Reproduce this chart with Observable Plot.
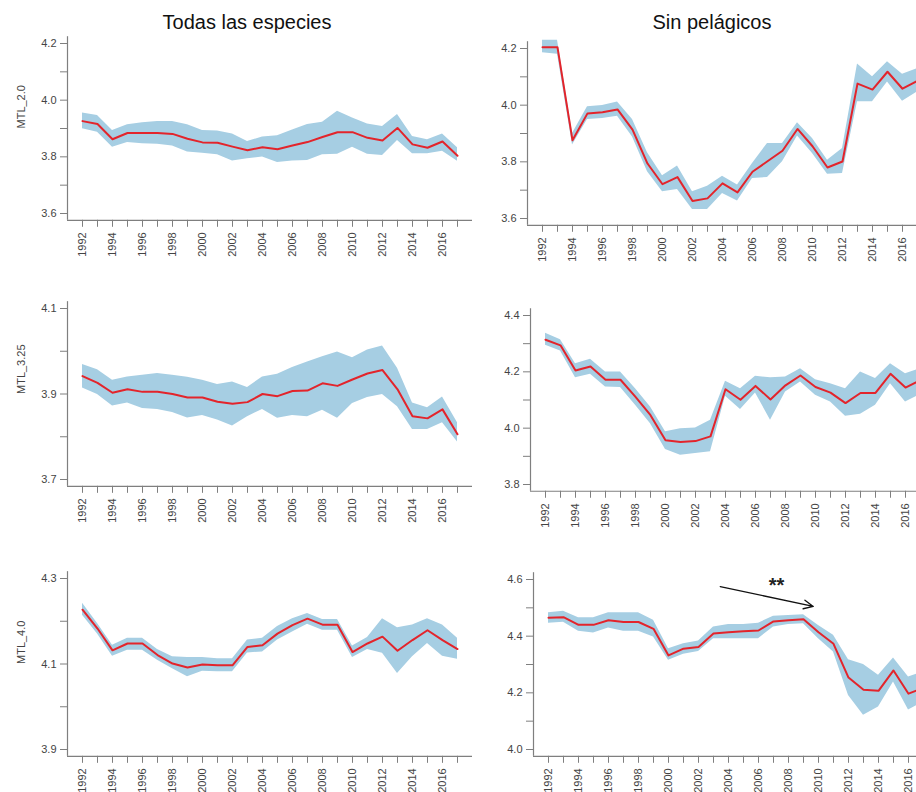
<!DOCTYPE html>
<html><head><meta charset="utf-8">
<script src="https://cdn.jsdelivr.net/npm/d3@7"></script>
<script src="https://cdn.jsdelivr.net/npm/@observablehq/plot@0.6"></script>
<style>
html,body{margin:0;padding:0;background:#fff;overflow:hidden;}
#wrap{position:relative;width:916px;height:792px;overflow:hidden;font-family:"Liberation Sans",Arial,sans-serif;background:#fff;}
.panel{position:absolute;}
.title{position:absolute;font-size:20px;line-height:20px;color:#111;white-space:nowrap;transform:translateX(-50%);}
</style></head><body><div id="wrap"></div>
<script>
// ---------- data ----------
const years = [1992,1993,1994,1995,1996,1997,1998,1999,2000,2001,2002,2003,2004,2005,2006,2007,2008,2009,2010,2011,2012,2013,2014,2015,2016,2017];
const yearLabels = [1992,1994,1996,1998,2000,2002,2004,2006,2008,2010,2012,2014,2016];
const columnTitles = ["Todas las especies", "Sin pelágicos"];
const rowLabels = ["MTL_2.0", "MTL_3.25", "MTL_4.0"];

// Todas las especies, MTL_2.0
const todas20Mean  = [3.926,3.916,3.862,3.884,3.884,3.884,3.881,3.864,3.851,3.850,3.836,3.823,3.834,3.827,3.840,3.852,3.870,3.887,3.887,3.867,3.858,3.902,3.844,3.832,3.854,3.804];
const todas20Upper = [3.955,3.946,3.893,3.913,3.920,3.925,3.925,3.913,3.893,3.891,3.881,3.854,3.870,3.874,3.895,3.914,3.922,3.961,3.937,3.916,3.907,3.949,3.872,3.860,3.881,3.832];
const todas20Lower = [3.899,3.887,3.834,3.851,3.846,3.844,3.838,3.817,3.813,3.807,3.785,3.793,3.799,3.780,3.785,3.787,3.807,3.809,3.834,3.809,3.805,3.858,3.811,3.811,3.820,3.784];
// Sin pelágicos, MTL_2.0
const sin20Mean  = [4.204,4.204,3.876,3.971,3.975,3.985,3.914,3.794,3.721,3.746,3.662,3.671,3.724,3.692,3.765,3.802,3.839,3.916,3.855,3.780,3.801,4.076,4.055,4.118,4.058,4.086];
const sin20Upper = [4.229,4.229,3.900,3.994,3.999,4.011,3.949,3.832,3.751,3.785,3.694,3.714,3.749,3.718,3.794,3.865,3.865,3.938,3.882,3.806,3.847,4.145,4.100,4.153,4.109,4.129];
const sin20Lower = [4.185,4.180,3.859,3.949,3.953,3.961,3.888,3.765,3.694,3.702,3.632,3.632,3.688,3.662,3.741,3.745,3.800,3.891,3.829,3.756,3.759,4.012,4.012,4.082,4.014,4.047];
// Todas las especies, MTL_3.25
const todas325Mean  = [3.942,3.926,3.903,3.911,3.905,3.905,3.900,3.892,3.892,3.882,3.877,3.881,3.900,3.895,3.907,3.908,3.925,3.919,3.934,3.948,3.956,3.911,3.848,3.843,3.864,3.806];
const todas325Upper = [3.969,3.957,3.932,3.940,3.944,3.948,3.944,3.939,3.932,3.922,3.928,3.915,3.940,3.946,3.962,3.975,3.987,3.998,3.985,4.003,4.012,3.960,3.879,3.868,3.893,3.833];
const todas325Lower = [3.914,3.899,3.872,3.879,3.866,3.864,3.857,3.844,3.850,3.839,3.825,3.847,3.864,3.843,3.850,3.847,3.862,3.843,3.878,3.892,3.899,3.870,3.817,3.817,3.833,3.788];
// Sin pelágicos, MTL_3.25
const sin325Mean  = [4.314,4.294,4.205,4.219,4.172,4.172,4.111,4.046,3.957,3.951,3.954,3.971,4.138,4.101,4.150,4.102,4.152,4.187,4.146,4.126,4.089,4.125,4.125,4.193,4.144,4.170];
const sin325Upper = [4.337,4.314,4.229,4.245,4.199,4.199,4.140,4.075,3.987,3.998,4.001,4.028,4.167,4.140,4.184,4.179,4.182,4.211,4.172,4.158,4.140,4.199,4.176,4.229,4.193,4.211];
const sin325Lower = [4.294,4.274,4.179,4.191,4.146,4.144,4.081,4.016,3.924,3.904,3.910,3.916,4.113,4.066,4.125,4.028,4.128,4.164,4.117,4.093,4.042,4.049,4.081,4.158,4.093,4.120];
// Todas las especies, MTL_4.0
const todas40Mean  = [4.227,4.183,4.132,4.148,4.148,4.121,4.101,4.092,4.099,4.097,4.097,4.140,4.144,4.171,4.191,4.206,4.192,4.192,4.128,4.148,4.164,4.131,4.156,4.179,4.156,4.135];
const todas40Upper = [4.242,4.195,4.144,4.160,4.160,4.134,4.117,4.115,4.115,4.112,4.112,4.156,4.160,4.188,4.206,4.218,4.204,4.204,4.142,4.162,4.206,4.185,4.191,4.206,4.191,4.160];
const todas40Lower = [4.214,4.170,4.118,4.132,4.132,4.109,4.089,4.070,4.083,4.082,4.082,4.126,4.128,4.156,4.175,4.193,4.179,4.179,4.115,4.134,4.125,4.078,4.117,4.148,4.118,4.111];
// Sin pelágicos, MTL_4.0
const sin40Mean  = [4.465,4.467,4.440,4.440,4.456,4.450,4.450,4.426,4.332,4.356,4.362,4.409,4.414,4.417,4.420,4.452,4.456,4.460,4.414,4.373,4.254,4.211,4.207,4.279,4.197,4.218];
const sin40Upper = [4.483,4.488,4.465,4.465,4.483,4.483,4.483,4.456,4.356,4.373,4.383,4.432,4.441,4.441,4.446,4.470,4.473,4.476,4.438,4.403,4.317,4.300,4.262,4.323,4.256,4.274];
const sin40Lower = [4.446,4.449,4.417,4.411,4.429,4.417,4.417,4.397,4.315,4.336,4.346,4.391,4.391,4.391,4.391,4.432,4.441,4.444,4.391,4.344,4.191,4.121,4.150,4.238,4.139,4.168];

// y-axis ticks per panel (all ticks / labelled ones)
const ticks20Todas = [3.6,3.7,3.8,3.9,4.0,4.1,4.2];   const labels20Todas = [3.6,3.8,4.0,4.2];
const ticks20Sin   = [3.6,3.7,3.8,3.9,4.0,4.1,4.2];   const labels20Sin   = [3.6,3.8,4.0,4.2];
const ticks325Todas = [3.7,3.8,3.9,4.0,4.1];          const labels325Todas = [3.7,3.9,4.1];
const ticks325Sin   = [3.8,3.9,4.0,4.1,4.2,4.3,4.4];  const labels325Sin   = [3.8,4.0,4.2,4.4];
const ticks40Todas = [3.9,4.0,4.1,4.2,4.3];           const labels40Todas = [3.9,4.1,4.3];
const ticks40Sin   = [4.0,4.1,4.2,4.3,4.4,4.5,4.6];   const labels40Sin   = [4.0,4.2,4.4,4.6];

// annotation (bottom-right panel): arrow and significance mark
const arrowFrom = [2003.45, 4.575];
const arrowTo   = [2009.65, 4.505];
const starsAt   = [2007.2, 4.578];
const starsText = "**";

// ---------- styling / layout ----------
const BAND = "#a6cee3", LINE = "#e3242b", AXIS = "#7f7f7f", TXT = "#444";
const xLim = [1991, 2018];          // R-style 4% padded limits
const PX_PER_YEAR = 15;
const fmt = d3.format(".1f");

const panels = [
  {left: 0,   top: 30,  height: 250, ml: 67, pxHi: 43,  pxLo: 213, mean: todas20Mean,  upper: todas20Upper,  lower: todas20Lower,  ticks: ticks20Todas,  labels: labels20Todas,  ylabel: rowLabels[0]},
  {left: 460, top: 30,  height: 250, ml: 67, pxHi: 48,  pxLo: 218, mean: sin20Mean,    upper: sin20Upper,    lower: sin20Lower,    ticks: ticks20Sin,    labels: labels20Sin},
  {left: 0,   top: 290, height: 260, ml: 67, pxHi: 308, pxLo: 479, mean: todas325Mean, upper: todas325Upper, lower: todas325Lower, ticks: ticks325Todas, labels: labels325Todas, ylabel: rowLabels[1]},
  {left: 460, top: 290, height: 260, ml: 70, pxHi: 315, pxLo: 484, mean: sin325Mean,   upper: sin325Upper,   lower: sin325Lower,   ticks: ticks325Sin,   labels: labels325Sin},
  {left: 0,   top: 560, height: 232, ml: 67, pxHi: 578, pxLo: 749, mean: todas40Mean,  upper: todas40Upper,  lower: todas40Lower,  ticks: ticks40Todas,  labels: labels40Todas,  ylabel: rowLabels[2]},
  {left: 460, top: 560, height: 232, ml: 73, pxHi: 579, pxLo: 749, mean: sin40Mean,    upper: sin40Upper,    lower: sin40Lower,    ticks: ticks40Sin,    labels: labels40Sin, annotate: true}
];

const wrap = document.getElementById("wrap");

for (const p of panels) {
  const rows = years.map((year, i) => ({year, mean: p.mean[i], lo: p.lower[i], hi: p.upper[i]}));
  const lo = d3.min(p.ticks), hi = d3.max(p.ticks);
  const pad = 0.04 * (hi - lo);
  const k = (p.pxLo - p.pxHi) / (hi - lo);
  const plotTop = p.pxHi - pad * k, plotBottom = p.pxLo + pad * k;
  const yDomain = [lo - pad, hi + pad];
  const mr = 8;
  const width = p.ml + (xLim[1] - xLim[0]) * PX_PER_YEAR + mr;
  const labelSet = new Set(p.labels.map(fmt));
  const marks = [
    Plot.areaY(rows, {x: "year", y1: "lo", y2: "hi", fill: BAND}),
    Plot.lineY(rows, {x: "year", y: "mean", stroke: LINE, strokeWidth: 2}),
    Plot.ruleX([xLim[0]], {stroke: AXIS, strokeWidth: 1.2}),
    Plot.ruleY([yDomain[0]], {stroke: AXIS, strokeWidth: 1.2}),
    Plot.axisY({ticks: p.ticks, tickSize: 7, tickPadding: 4, tickFormat: d => labelSet.has(fmt(d)) ? fmt(d) : "",
      stroke: AXIS, fill: TXT, fontSize: 11, label: null}),
    Plot.axisX({ticks: years, tickSize: 7, tickPadding: 5, tickRotate: -90,
      tickFormat: d => yearLabels.includes(d) ? String(d) : "", stroke: AXIS, fill: TXT, fontSize: 11, label: null})
  ];
  if (p.ylabel) {
    marks.push(Plot.text([p.ylabel], {frameAnchor: "left", dx: -46, rotate: -90, fontSize: 11, fill: TXT}));
  }
  if (p.annotate) {
    marks.push(Plot.arrow([{x1: arrowFrom[0], y1: arrowFrom[1], x2: arrowTo[0], y2: arrowTo[1]}],
      {x1: "x1", y1: "y1", x2: "x2", y2: "y2", stroke: "#111", strokeWidth: 1.3, headLength: 12, headAngle: 50}));
    marks.push(Plot.text([{x: starsAt[0], y: starsAt[1], t: starsText}],
      {x: "x", y: "y", text: "t", fontSize: 20, fontWeight: "bold", fill: "#222"}));
  }
  const svg = Plot.plot({
    width, height: p.height,
    marginLeft: p.ml, marginRight: mr,
    marginTop: plotTop - p.top,
    marginBottom: p.height - (plotBottom - p.top),
    x: {domain: xLim},
    y: {domain: yDomain},
    style: {background: "transparent", fontFamily: "Liberation Sans, Arial, sans-serif", maxWidth: "none", overflow: "visible"},
    marks
  });
  const div = document.createElement("div");
  div.className = "panel";
  div.style.left = p.left + "px";
  div.style.top = p.top + "px";
  div.style.width = width + "px";
  div.appendChild(svg);
  wrap.appendChild(div);
}

// column titles
[[columnTitles[0], 247], [columnTitles[1], 712]].forEach(([t, cx]) => {
  const d = document.createElement("div");
  d.className = "title";
  d.textContent = t;
  d.style.left = cx + "px";
  d.style.top = "12px";
  wrap.appendChild(d);
});
</script>
</body></html>
